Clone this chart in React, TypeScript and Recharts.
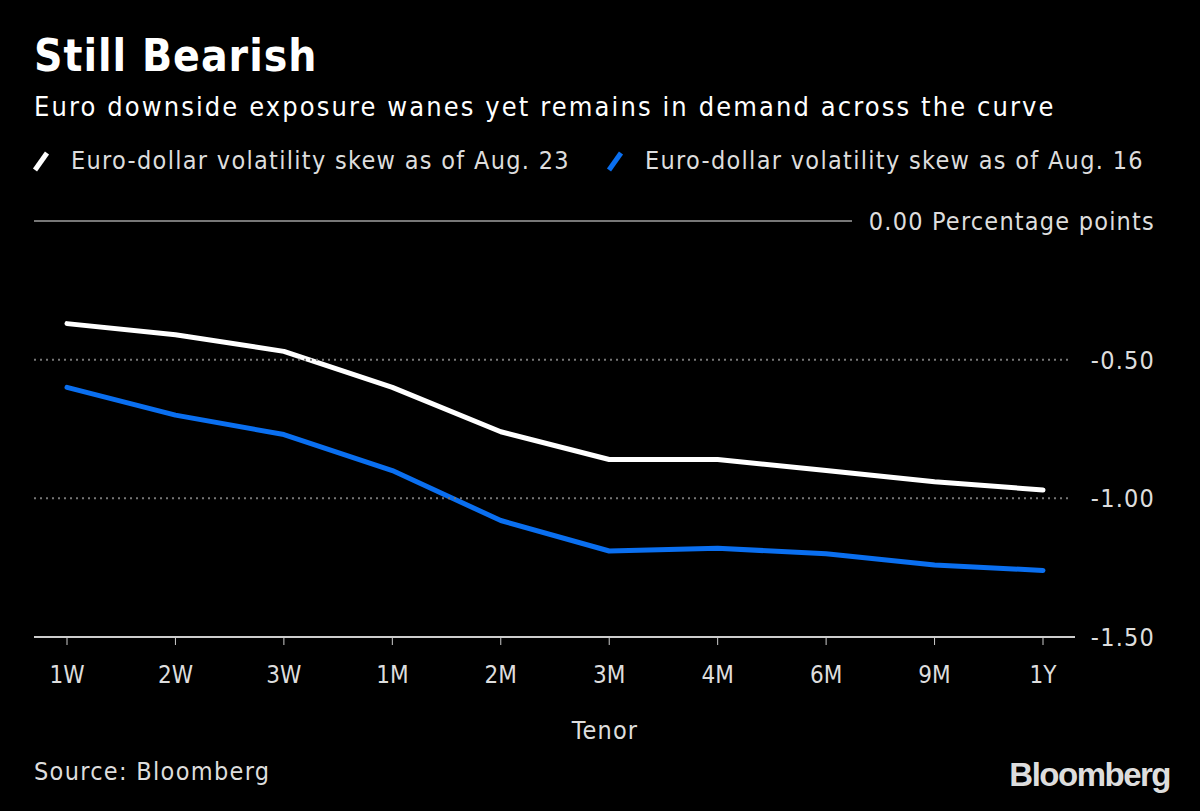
import { LineChart, Line, XAxis, YAxis, Legend } from "recharts";

const tenors = ["1W", "2W", "3W", "1M", "2M", "3M", "4M", "6M", "9M", "1Y"];
const skewAug23 = [-0.37, -0.41, -0.47, -0.6, -0.76, -0.86, -0.86, -0.9, -0.94, -0.97];
const skewAug16 = [-0.6, -0.7, -0.77, -0.9, -1.08, -1.19, -1.18, -1.2, -1.24, -1.26];
const yTicks = [0, -0.5, -1, -1.5];
const seriesOrder = ["aug23", "aug16"];

const FONT = '"DejaVu Sans Condensed", "Liberation Sans Narrow", sans-serif';

const data = tenors.map((t, i) => ({
  tenor: t,
  aug23: skewAug23[i],
  aug16: skewAug16[i],
}));

function YTick(props: any) {
  const { y, payload } = props;
  const v = payload.value;
  const label = v === 0 ? "0.00 Percentage points" : v.toFixed(2);
  return (
    <g>
      {v === 0 && <line x1={34} x2={852} y1={y} y2={y} stroke="#777" strokeWidth={2} />}
      {v !== 0 && v !== -1.5 && (
        <line x1={34} x2={1070} y1={y} y2={y} stroke="#777" strokeWidth={2} strokeDasharray="2 4" />
      )}
      <text x={1155} y={y} dy={9} textAnchor="end" fill="#ddd" fontSize={25} letterSpacing={1.2} fontFamily={FONT}>
        {label}
      </text>
    </g>
  );
}

function LegendContent(props: any) {
  const items = [...(props.payload || [])].sort(
    (a: any, b: any) => seriesOrder.indexOf(a.dataKey) - seriesOrder.indexOf(b.dataKey)
  );
  return (
    <div
      style={{
        display: "flex",
        whiteSpace: "nowrap",
        fontFamily: FONT,
        fontSize: 25,
        letterSpacing: 1.3,
        color: "#ddd",
        height: 29,
      }}
    >
      {items.map((it: any) => (
        <div key={it.value} style={{ display: "flex", alignItems: "center", marginRight: 34, flexShrink: 0 }}>
          <svg width={30} height={26}>
            <line x1={5} y1={22} x2={17} y2={5} stroke={it.color} strokeWidth={5} />
          </svg>
          <span style={{ marginLeft: 11 }}>{it.value}</span>
        </div>
      ))}
    </div>
  );
}

export default function App() {
  return (
    <div
      style={{
        position: "fixed",
        left: 0,
        top: 0,
        width: 1200,
        height: 811,
        background: "#000",
        fontFamily: FONT,
        overflow: "hidden",
      }}
    >
      <div style={{ position: "absolute", left: 34, top: 30, fontSize: 44, fontWeight: "bold", letterSpacing: 1, color: "#fff" }}>
        Still Bearish
      </div>
      <div style={{ position: "absolute", left: 34, top: 91, fontSize: 27, letterSpacing: 2.1, color: "#fff" }}>
        Euro downside exposure wanes yet remains in demand across the curve
      </div>
      <LineChart width={1200} height={811} data={data} margin={{ top: 192, right: 0, bottom: 114, left: 34 }}>
        <XAxis
          dataKey="tenor"
          padding={{ left: 33, right: 32 }}
          axisLine={{ stroke: "#ccc", strokeWidth: 2 }}
          tickLine={{ stroke: "#ccc", strokeWidth: 1 }}
          tickSize={8}
          tickMargin={21}
          tick={{ fill: "#ddd", fontSize: 24, fontFamily: FONT }}
          height={60}
          interval={0}
        />
        <YAxis
          orientation="right"
          domain={[-1.5, 0]}
          ticks={yTicks}
          width={125}
          axisLine={false}
          tickLine={false}
          tick={<YTick />}
          interval={0}
        />
        <Legend
          verticalAlign="top"
          content={<LegendContent />}
          wrapperStyle={{ position: "absolute", top: 146, left: 30, width: 1150 }}
        />
        <Line
          name="Euro-dollar volatility skew as of Aug. 23"
          dataKey="aug23"
          stroke="#ffffff"
          strokeWidth={5}
          strokeLinecap="round"
          strokeLinejoin="round"
          dot={false}
          isAnimationActive={false}
        />
        <Line
          name="Euro-dollar volatility skew as of Aug. 16"
          dataKey="aug16"
          stroke="#0a6ff0"
          strokeWidth={5}
          strokeLinecap="round"
          strokeLinejoin="round"
          dot={false}
          isAnimationActive={false}
        />
      </LineChart>
      <div style={{ position: "absolute", left: 0, width: 1210, top: 716, textAlign: "center", fontSize: 25, letterSpacing: 1.2, color: "#ddd" }}>
        Tenor
      </div>
      <div style={{ position: "absolute", left: 34, top: 757, fontSize: 25, letterSpacing: 1.3, color: "#ddd" }}>
        Source: Bloomberg
      </div>
      <div
        style={{
          position: "absolute",
          right: 30,
          top: 756,
          fontSize: 33,
          fontWeight: "bold",
          letterSpacing: -1.5,
          color: "#ddd",
          fontFamily: '"Liberation Sans", Arial, sans-serif',
        }}
      >
        Bloomberg
      </div>
    </div>
  );
}
